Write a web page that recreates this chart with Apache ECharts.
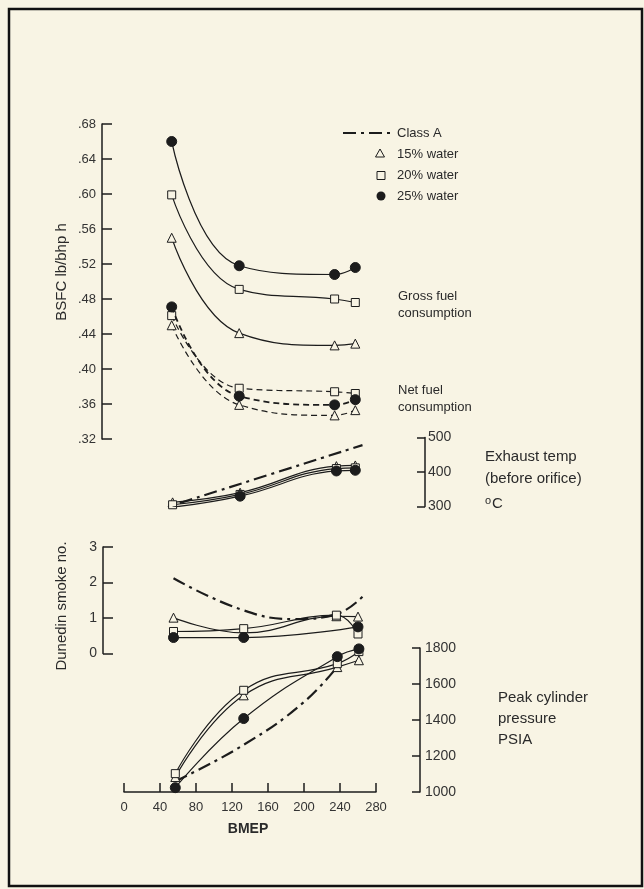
<!DOCTYPE html>
<html><head><meta charset="utf-8">
<script src="https://cdn.jsdelivr.net/npm/echarts@6/dist/echarts.min.js"></script>
<style>html,body{margin:0;padding:0;background:#f8f4e4;}#c{width:644px;height:889px;}</style>
</head><body><div id="c"></div>
<script>
// ---- tick labels ----
const bmepTicks = ['0','40','80','120','160','200','240','280'];
const bsfcTicks = ['.32','.36','.40','.44','.48','.52','.56','.60','.64','.68'];
const exhTicks = ['300','400','500'];
const smokeTicks = ['0','1','2','3'];
const presTicks = ['1000','1200','1400','1600','1800'];

// ---- BSFC panel (lb/bhp h) ----
const bsfcX = [53, 128, 234, 257];
const gross15 = [0.550, 0.441, 0.427, 0.429];
const gross20 = [0.599, 0.491, 0.480, 0.476];
const gross25 = [0.660, 0.518, 0.508, 0.516];
const net15 = [0.450, 0.359, 0.347, 0.353];
const net20 = [0.461, 0.378, 0.374, 0.372];
const net25 = [0.471, 0.369, 0.359, 0.365];

// ---- Exhaust temp panel (deg C) ----
const exhX = [54, 129, 236, 257];
const exh15 = [312, 340, 417, 419];
const exh20 = [305, 335, 410, 412];
const exh25 = [298, 330, 403, 405];
const exhClassAX = [62, 265];
const exhClassA = [310, 478];

// ---- Smoke panel (Dunedin smoke no.) ----
const smokeX = [55, 133, 236, 260];
const smoke15 = [1.01, 0.58, 1.05, 1.04];
const smoke20 = [0.62, 0.70, 1.08, 0.55];
const smoke25X = [55, 133, 260];
const smoke25 = [0.45, 0.45, 0.75];
const smokeClassAX = [55, 129, 189, 235, 265];
const smokeClassA = [2.12, 1.25, 0.97, 1.10, 1.60];

// ---- Peak cylinder pressure panel (PSIA) ----
const presX = [57, 133, 237, 261];
const pres15 = [1083, 1537, 1694, 1732];
const pres20 = [1102, 1565, 1713, 1780];
const pres25 = [1024, 1408, 1752, 1795];
const presClassAX = [57, 133, 200, 240];
const presClassA = [1060, 1262, 1500, 1715];

const INK = '#1c1c1c';
const BG = '#f8f4e4';
const FONT = '"Liberation Sans", Arial, sans-serif';
const pairs = (xs, ys) => xs.map((x, i) => [x, ys[i]]);

const markers = {
  t: {symbol: 'triangle', symbolSize: 9, itemStyle: {color: BG, borderColor: INK, borderWidth: 1}},
  s: {symbol: 'rect', symbolSize: 8, itemStyle: {color: BG, borderColor: INK, borderWidth: 1}},
  c: {symbol: 'circle', symbolSize: 10, itemStyle: {color: INK, borderColor: INK, borderWidth: 1}}
};

function waterSeries(name, gi, xs, ys, mk, dashed, width) {
  return Object.assign({
    name, type: 'line', xAxisIndex: gi, yAxisIndex: gi,
    data: pairs(xs, ys), smooth: 0.45, showSymbol: true, z: mk === 'c' ? 4 : 3,
    lineStyle: {color: INK, width: width || 1.2, type: dashed ? [6, 4] : 'solid'},
    animation: false
  }, markers[mk]);
}
function classASeries(gi, xs, ys) {
  return {
    name: 'Class A', type: 'line', xAxisIndex: gi, yAxisIndex: gi,
    data: pairs(xs, ys), smooth: 0.45, symbol: 'none', z: 2,
    lineStyle: {color: INK, width: 2.2, type: [13, 5, 3, 5]}, animation: false
  };
}

const gridL = 124, gridW = 252;
const grids = [
  {left: gridL, width: gridW, top: 124, height: 315},
  {left: gridL, width: gridW, top: 437.5, height: 69},
  {left: gridL, width: gridW, top: 547, height: 106.5},
  {left: gridL, width: gridW, top: 648, height: 144}
];

const lbl = {color: '#333', fontSize: 13, fontFamily: FONT};
const xAxes = grids.map((g, i) => ({
  gridIndex: i, type: 'value', min: 0, max: 280, interval: 40, show: i === 3,
  axisLine: {show: true, onZero: false, lineStyle: {color: INK, width: 1.5}},
  axisTick: {show: true, inside: true, length: 9, lineStyle: {color: INK, width: 1.5}},
  axisLabel: Object.assign({margin: 9, formatter: v => bmepTicks[Math.round(v / 40)]}, lbl),
  splitLine: {show: false}
}));

function yAx(gi, min, max, interval, pos, offset, ticks, len, labExtra) {
  return {
    gridIndex: gi, type: 'value', min, max, interval, position: pos, offset,
    axisLine: {show: true, onZero: false, lineStyle: {color: INK, width: 1.5}},
    axisTick: {show: true, inside: true, length: len, lineStyle: {color: INK, width: 1.5}},
    axisLabel: Object.assign({margin: 6, formatter: v => ticks[Math.round((v - min) / interval)]}, lbl, labExtra || {}),
    splitLine: {show: false}
  };
}
const yAxes = [
  yAx(0, 0.32, 0.68, 0.04, 'left', 22, bsfcTicks, 10),
  yAx(1, 300, 500, 100, 'right', 49, exhTicks, 8, {fontSize: 14, margin: 3}),
  yAx(2, 0, 3, 1, 'left', 21, smokeTicks, 10, {fontSize: 14}),
  yAx(3, 1000, 1800, 200, 'right', 44, presTicks, 8, {fontSize: 14, margin: 5})
];

const series = [
  waterSeries('15% water', 0, bsfcX, gross15, 't'),
  waterSeries('20% water', 0, bsfcX, gross20, 's'),
  waterSeries('25% water', 0, bsfcX, gross25, 'c'),
  waterSeries('15% water', 0, bsfcX, net15, 't', true),
  waterSeries('20% water', 0, bsfcX, net20, 's', true),
  waterSeries('25% water', 0, bsfcX, net25, 'c', true, 1.8),
  classASeries(1, exhClassAX, exhClassA),
  waterSeries('15% water', 1, exhX, exh15, 't'),
  waterSeries('20% water', 1, exhX, exh20, 's'),
  waterSeries('25% water', 1, exhX, exh25, 'c'),
  classASeries(2, smokeClassAX, smokeClassA),
  waterSeries('15% water', 2, smokeX, smoke15, 't'),
  waterSeries('20% water', 2, smokeX, smoke20, 's'),
  waterSeries('25% water', 2, smoke25X, smoke25, 'c'),
  classASeries(3, presClassAX, presClassA),
  waterSeries('15% water', 3, presX, pres15, 't'),
  waterSeries('20% water', 3, presX, pres20, 's'),
  waterSeries('25% water', 3, presX, pres25, 'c')
];

function txt(text, x, y, size, weight, extra) {
  return Object.assign({
    type: 'text', x, y, silent: true,
    style: {text, x: 0, y: 0, font: (weight || 'normal') + ' ' + size + 'px ' + FONT, fill: '#2a2a2a',
      textAlign: 'left', align: 'left', textVerticalAlign: 'middle', verticalAlign: 'middle'}
  }, extra || {});
}
function ctxt(text, x, y, size, weight, extra) {
  const t = txt(text, x, y, size, weight, extra);
  t.style.textAlign = 'center'; t.style.align = 'center';
  return t;
}

const graphic = [
  {type: 'rect', shape: {x: 9, y: 9, width: 633, height: 877}, style: {fill: 'none', stroke: '#111', lineWidth: 2.5}, silent: true},
  // legend
  {type: 'line', shape: {x1: 343, y1: 133, x2: 390, y2: 133}, style: {stroke: INK, lineWidth: 2.2, lineDash: [13, 5, 3, 5]}},
  txt('Class A', 397, 133, 13),
  {type: 'polygon', shape: {points: [[380, 149], [384.5, 157], [375.5, 157]]}, style: {fill: BG, stroke: INK, lineWidth: 1}},
  txt('15% water', 397, 154, 13),
  {type: 'rect', shape: {x: 377, y: 171.5, width: 8, height: 8}, style: {fill: BG, stroke: INK, lineWidth: 1}},
  txt('20% water', 397, 175, 13),
  {type: 'circle', shape: {cx: 381, cy: 196, r: 4.5}, style: {fill: INK}},
  txt('25% water', 397, 196, 13),
  // annotations
  txt('Gross fuel', 398, 296, 13),
  txt('consumption', 398, 313, 13),
  txt('Net fuel', 398, 390, 13),
  txt('consumption', 398, 407, 13),
  txt('Exhaust temp', 485, 457, 15),
  txt('(before orifice)', 485, 479, 15),
  {type: 'text', x: 485, y: 504, silent: true, style: {text: '{s|o}C', x: 0, y: 0, font: '15px ' + FONT, fill: '#2a2a2a',
    textVerticalAlign: 'middle', verticalAlign: 'middle',
    rich: {s: {fontSize: 11, verticalAlign: 'top', padding: [0, 1, 6, 0], fill: '#2a2a2a', fontFamily: FONT}}}},
  txt('Peak cylinder', 498, 698, 15),
  txt('pressure', 498, 719, 15),
  txt('PSIA', 498, 740, 15),
  ctxt('BSFC lb/bhp h', 62, 272, 15, 'normal', {rotation: Math.PI / 2}),
  ctxt('Dunedin smoke no.', 62, 606, 15, 'normal', {rotation: Math.PI / 2}),
  ctxt('BMEP', 248, 829, 14, 'bold')
];

const chart = echarts.init(document.getElementById('c'), null, {renderer: 'canvas'});
chart.setOption({
  backgroundColor: BG,
  animation: false,
  grid: grids,
  xAxis: xAxes,
  yAxis: yAxes,
  series,
  graphic
});
</script></body></html>
